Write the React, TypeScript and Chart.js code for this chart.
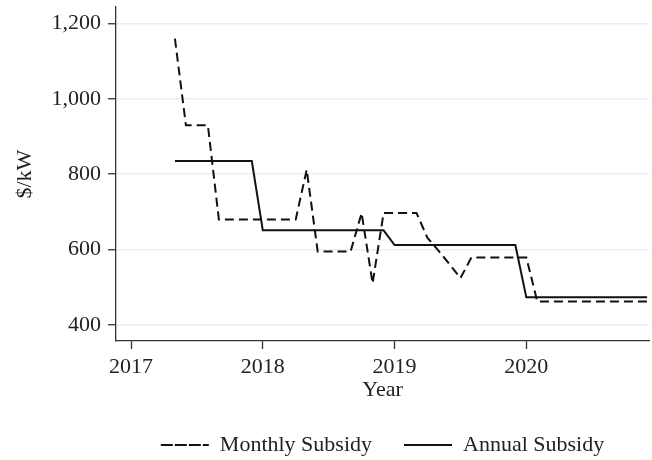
import React, { useEffect, useRef } from "react";
import { Chart, registerables } from "chart.js";

Chart.register(...registerables);

// Months (first day of each month) covered by the series
const monthLabels = [
  "2017-05", "2017-06", "2017-07", "2017-08", "2017-09", "2017-10", "2017-11", "2017-12",
  "2018-01", "2018-02", "2018-03", "2018-04", "2018-05", "2018-06", "2018-07", "2018-08", "2018-09", "2018-10", "2018-11", "2018-12",
  "2019-01", "2019-02", "2019-03", "2019-04", "2019-05", "2019-06", "2019-07", "2019-08", "2019-09", "2019-10", "2019-11", "2019-12",
  "2020-01", "2020-02", "2020-03", "2020-04", "2020-05", "2020-06", "2020-07", "2020-08", "2020-09", "2020-10", "2020-11", "2020-12",
];

// $/kW
const monthlySubsidy = [
  1160, 930, 930, 930, 680, 680, 680, 680,
  680, 680, 680, 680, 812, 595, 595, 595, 595, 697, 510, 697,
  697, 697, 697, 631, 597, 561, 524, 579, 579, 579, 579, 579,
  579, 462, 462, 462, 462, 462, 462, 462, 462, 462, 462, 462,
];

const annualSubsidy = [
  835, 835, 835, 835, 835, 835, 835, 835,
  651, 651, 651, 651, 651, 651, 651, 651, 651, 651, 651, 651,
  612, 612, 612, 612, 612, 612, 612, 612, 612, 612, 612, 612,
  473, 473, 473, 473, 473, 473, 473, 473, 473, 473, 473, 473,
];

const xTickValues = [2017, 2018, 2019, 2020];
const yTickValues = [400, 600, 800, 1000, 1200];

const seriesNames = ["Monthly Subsidy", "Annual Subsidy"];
const xTitle = "Year";
const yTitle = "$/kW";

const toYear = (label: string) => {
  const [y, m] = label.split("-").map(Number);
  return y + (m - 1) / 12;
};

const FONT = "'Liberation Serif', 'Times New Roman', serif";
const TEXT = "#222";
const AXIS = "#333";
const GRID = "#e8eff2";

export default function App() {
  const ref = useRef<HTMLCanvasElement | null>(null);

  useEffect(() => {
    if (!ref.current) return;
    const chart = new Chart(ref.current, {
      type: "line",
      data: {
        datasets: [
          {
            label: seriesNames[0],
            data: monthLabels.map((m, i) => ({ x: toYear(m), y: monthlySubsidy[i] })),
            borderColor: "#111",
            backgroundColor: "#111",
            borderWidth: 2,
            borderDash: [9, 5],
            pointRadius: 0,
            tension: 0,
            fill: false,
          },
          {
            label: seriesNames[1],
            data: monthLabels.map((m, i) => ({ x: toYear(m), y: annualSubsidy[i] })),
            borderColor: "#111",
            backgroundColor: "#111",
            borderWidth: 2,
            pointRadius: 0,
            tension: 0,
            fill: false,
          },
        ],
      },
      options: {
        responsive: false,
        animation: false,
        layout: { padding: { left: 0, right: 3, top: 7, bottom: -6 } },
        font: { family: FONT },
        plugins: {
          tooltip: { enabled: false },
          legend: {
            position: "bottom",
            align: "center",
            fullSize: false,
            labels: {
              boxWidth: 48,
              boxHeight: 0,
              padding: 32,
              color: TEXT,
              font: { family: FONT, size: 22, lineHeight: 1 },
            },
          },
        },
        scales: {
          x: {
            type: "linear",
            min: 2016.886,
            max: 2020.931,
            afterBuildTicks: (axis: any) => {
              axis.ticks = xTickValues.map((v) => ({ value: v }));
            },
            ticks: {
              callback: (v: any) => String(v),
              color: TEXT,
              padding: 7,
              maxRotation: 0,
              font: { family: FONT, size: 22, lineHeight: 1 },
            },
            grid: {
              drawOnChartArea: false,
              drawTicks: true,
              tickLength: 8,
              tickColor: AXIS,
              tickWidth: 1.3,
            },
            border: { display: true, color: AXIS, width: 1.3 },
            title: {
              display: true,
              text: xTitle,
              color: TEXT,
              padding: { top: -6, bottom: 1 },
              font: { family: FONT, size: 22, lineHeight: 1 },
            },
          },
          y: {
            type: "linear",
            min: 357,
            max: 1244,
            afterBuildTicks: (axis: any) => {
              axis.ticks = yTickValues.map((v) => ({ value: v }));
            },
            ticks: {
              callback: (v: any) => Number(v).toLocaleString("en-US"),
              color: TEXT,
              padding: 7,
              font: { family: FONT, size: 22, lineHeight: 0.01 },
            },
            grid: {
              color: GRID,
              lineWidth: 1.5,
              drawTicks: true,
              tickLength: 8,
              tickColor: AXIS,
              tickWidth: 1.3,
            },
            border: { display: true, color: AXIS, width: 1.3 },
            title: {
              display: true,
              text: yTitle,
              color: TEXT,
              padding: { top: 14.5, bottom: 8 },
              font: { family: FONT, size: 22, lineHeight: 1 },
            },
          },
        },
      } as any,
    });
    return () => chart.destroy();
  }, []);

  return (
    <div style={{ position: "absolute", left: 0, top: 0, width: 652, height: 460, background: "#fff" }}>
      <canvas ref={ref} width={652} height={460} />
    </div>
  );
}
